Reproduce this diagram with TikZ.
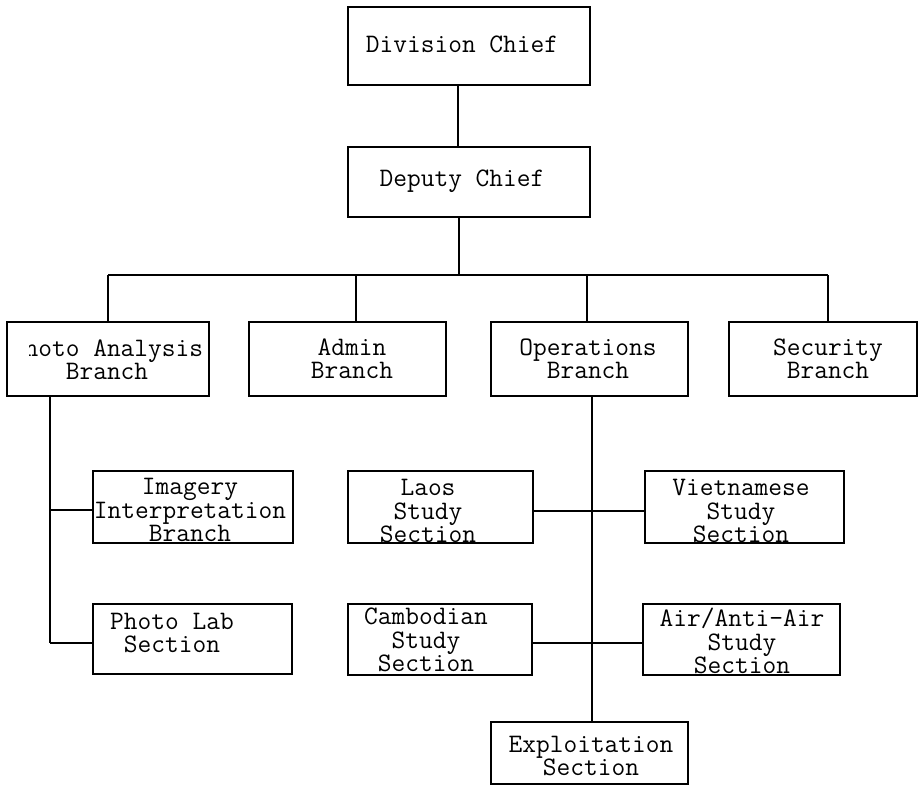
\documentclass[tikz,border=0pt]{standalone}
\usepackage{fontspec}
\usetikzlibrary{calc,fit}
\newcommand{\twfont}{\ttfamily\fontsize{20}{17.4}\selectfont\addfontfeature{FakeBold=0.6}}
\begin{document}
\begin{tikzpicture}[x=0.75pt,y=-0.75pt,
  box/.style={draw,line width=1.7pt,inner sep=0pt,rectangle},
  lbl/.style={font=\twfont,align=center,inner sep=0pt},
  wire/.style={line width=1.6pt}]
\useasboundingbox (0,0) rectangle (919,786);
\clip (0,0) rectangle (919,786);

% boxes
\node[box,fit={(348,7) (590,85)}] (div) {};
\node[box,fit={(348,147) (590,217)}] (dep) {};
\node[box,fit={(7,322) (209,396)}] (pa) {};
\node[box,fit={(249,322) (446,396)}] (adm) {};
\node[box,fit={(491,322) (688,396)}] (ops) {};
\node[box,fit={(729,322) (917,396)}] (sec) {};
\node[box,fit={(93,471) (293,543)}] (ii) {};
\node[box,fit={(93,604) (292,674)}] (pl) {};
\node[box,fit={(348,471) (533,543)}] (laos) {};
\node[box,fit={(645,471) (844,543)}] (viet) {};
\node[box,fit={(348,604) (532,675)}] (camb) {};
\node[box,fit={(643,604) (840,675)}] (air) {};
\node[box,fit={(491,722) (688,784)}] (expl) {};

% texts
\node[lbl] (div-t) at (462,44) {Division Chief};
\node[lbl] (dep-t) at (462,181) {Deputy Chief};
\begin{scope}
  \clip (29,300) rectangle (215,400);
  \node[lbl] (pa-t) at (107,360) {Photo Analysis\\Branch};
\end{scope}
\node[lbl] (adm-t) at (352,359) {Admin\\Branch};
\node[lbl] (ops-t) at (588,359) {Operations\\Branch};
\node[lbl] (sec-t) at (828,359) {Security\\Branch};
\node[lbl] (ii-t) at (190,510) {Imagery\\Interpretation\\Branch};
\node[lbl] (laos-t) at (428,511) {Laos\\Study\\Section};
\node[lbl] (viet-t) at (741,511) {Vietnamese\\Study\\Section};
\node[lbl] (pl-t) at (172,633) {Photo Lab\\Section};
\node[lbl] (camb-t) at (426,640) {Cambodian\\Study\\Section};
\node[lbl] (air-t) at (742,641) {Air/Anti-Air\\Study\\Section};
\node[lbl] (expl-t) at (591,756) {Exploitation\\Section};

% connector points
\coordinate (barL) at (108,275);
\coordinate (barR) at (828,275);
\coordinate (barM) at (459,275);
\coordinate (dA) at (356,275);
\coordinate (dO) at (587,275);
\coordinate (pv) at (50,643);
\coordinate (ov) at (592,0);
\coordinate (h1) at (0,511);
\coordinate (h2) at (0,643);
\coordinate (h3) at (0,510);

% connectors
\draw[wire] ($(div.south west)!0.455!(div.south east)$) -- ($(dep.north west)!0.455!(dep.north east)$);
\draw[wire] (barM |- dep.south) -- (barM);
\draw[wire] (barL) -- (barR);
\draw[wire] (barL) -- (barL |- pa.north);
\draw[wire] (dA) -- (dA |- adm.north);
\draw[wire] (dO) -- (dO |- ops.north);
\draw[wire] (barR) -- (barR |- sec.north);
\draw[wire] (pv |- pa.south) -- (pv);
\draw[wire] (pv |- h3) -- (ii.west |- h3);
\draw[wire] (pv) -- (pv -| pl.west);
\draw[wire] (ov |- ops.south) -- (ov |- expl.north);
\draw[wire] (laos.east |- h1) -- (viet.west |- h1);
\draw[wire] (camb.east |- h2) -- (air.west |- h2);
\end{tikzpicture}
\end{document}
